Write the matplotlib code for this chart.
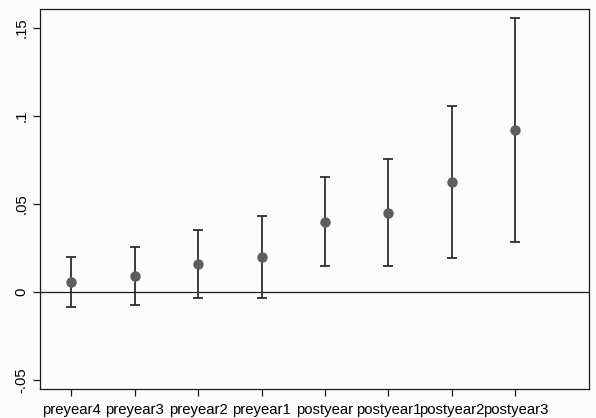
import matplotlib
matplotlib.use("Agg")
import matplotlib.pyplot as plt

plt.rcParams['font.family'] = ['Liberation Sans', 'DejaVu Sans']

etiquetas = ["preyear4", "preyear3", "preyear2", "preyear1",
             "postyear", "postyear1", "postyear2", "postyear3"]
coef = [0.0057, 0.0091, 0.0159, 0.0199, 0.0400, 0.0451, 0.0625, 0.0919]
ci_low = [-0.0083, -0.0074, -0.0036, -0.0034, 0.0146, 0.0149, 0.0191, 0.0282]
ci_high = [0.0201, 0.0257, 0.0352, 0.0432, 0.0655, 0.0754, 0.1059, 0.1557]
yticks = [-0.05, 0, 0.05, 0.1, 0.15]
ytick_labels = ["-.05", "0", ".05", ".1", ".15"]

x = list(range(1, len(etiquetas) + 1))
err_low = [c - l for c, l in zip(coef, ci_low)]
err_high = [h - c for c, h in zip(coef, ci_high)]

fig = plt.figure(figsize=(5.96, 4.18), dpi=100)
fig.patch.set_facecolor("#fcfcfc")
ax = fig.add_axes([0.0671, 0.0694, 0.9212, 0.9091])
ax.set_facecolor("#fcfcfc")

ax.axhline(0, color="#1a1a1a", linewidth=0.9, zorder=1)
ax.errorbar(x, coef, yerr=[err_low, err_high], fmt="none",
            ecolor="#2e2e2e", elinewidth=1.3, capsize=3.5, capthick=1.3, zorder=2)
ax.plot(x, coef, "o", color="#5e5e5e", markersize=6.5, zorder=3)

ax.set_xlim(0.51, 9.16)
ax.set_ylim(-0.0551, 0.1608)
ax.set_xticks(x)
ax.set_xticklabels(etiquetas, fontsize=10.7)
ax.set_yticks(yticks)
ax.set_yticklabels(ytick_labels, fontsize=10.7, rotation=90, va="center")
ax.tick_params(axis="both", direction="out", length=5, width=0.9, color="#1a1a1a")
ax.tick_params(axis="x", pad=5)
for s in ax.spines.values():
    s.set_linewidth(0.9)
    s.set_color("#1a1a1a")

fig.savefig("out.png", dpi=100, facecolor=fig.get_facecolor())
